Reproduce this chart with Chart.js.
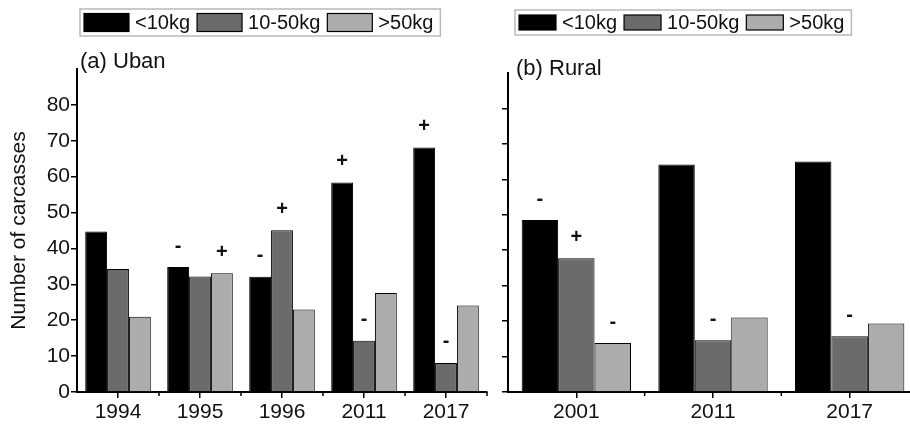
<!DOCTYPE html>
<html>
<head>
<meta charset="utf-8">
<script src="https://cdn.jsdelivr.net/npm/chart.js@4.4.1/dist/chart.umd.min.js"></script>
<style>
  html, body { margin:0; padding:0; width:910px; height:426px; overflow:hidden; background:#fff; }
  .panel { position:absolute; top:0; height:426px; }
  #wrapA { left:0; width:490px; }
  #wrapB { left:490px; width:430px; }
</style>
</head>
<body>
<div class="panel" id="wrapA"><canvas id="chartA"></canvas></div>
<div class="panel" id="wrapB"><canvas id="chartB"></canvas></div>
<script>
// ---------- DATA ----------
const seriesLabels = ['<10kg', '10-50kg', '>50kg'];

const urbanYears  = ['1994', '1995', '1996', '2011', '2017'];
const urbanSmall  = [44.7, 34.8, 32.1, 58.4, 68.1];
const urbanMedium = [34.3, 32.2, 45.1, 14.3, 8.1];
const urbanLarge  = [21.0, 33.1, 23.0, 27.6, 24.1];
const urbanSmallSig  = ['', '-', '-', '+', '+'];
const urbanMediumSig = ['', '', '+', '-', '-'];
const urbanLargeSig  = ['', '+', '', '', ''];

const ruralYears  = ['2001', '2011', '2017'];
const ruralSmall  = [48.5, 64.2, 65.0];
const ruralMedium = [37.7, 14.6, 15.7];
const ruralLarge  = [13.8, 21.0, 19.3];
const ruralSmallSig  = ['-', '', ''];
const ruralMediumSig = ['+', '-', '-'];
const ruralLargeSig  = ['-', '', ''];

const yMin = 0, yMax = 90, yStep = 10;
const yTitle = 'Number of carcasses';
const panelTitles = ['(a) Uban', '(b) Rural'];

// ---------- STYLE ----------
const FONT = "'Liberation Sans', Arial, Helvetica, sans-serif";
const TXT = '#111111';
const seriesColors = ['#000000', '#6b6b6b', '#acacac'];

function decorPlugin(cfg) {
  return {
    id: 'decor_' + cfg.name,
    afterDatasetsDraw(chart) {
      const ctx = chart.ctx;
      ctx.save();
      ctx.fillStyle = TXT;
      ctx.font = 'bold 20px ' + FONT;
      ctx.textAlign = 'center';
      ctx.textBaseline = 'middle';
      chart.data.datasets.forEach((ds, i) => {
        const meta = chart.getDatasetMeta(i);
        meta.data.forEach((el, j) => {
          const s = ds.sig[j];
          if (s) ctx.fillText(s, el.x, el.y - 21);
        });
      });
      ctx.restore();
    },
    afterDraw(chart) {
      const ctx = chart.ctx;
      const xs = chart.scales.x;
      ctx.save();
      // minor ticks between categories
      const n = chart.data.labels.length;
      const step = xs.getPixelForValue(1) - xs.getPixelForValue(0);
      ctx.strokeStyle = '#000';
      ctx.lineWidth = 1.5;
      for (let i = 1; i <= n; i++) {
        const px = xs.getPixelForValue(i) - step / 2;
        ctx.beginPath();
        ctx.moveTo(px, chart.chartArea.bottom);
        ctx.lineTo(px, chart.chartArea.bottom + 4);
        ctx.stroke();
      }
      // panel title
      ctx.fillStyle = TXT;
      ctx.font = '22px ' + FONT;
      ctx.textAlign = 'left';
      ctx.textBaseline = 'middle';
      ctx.fillText(cfg.title, cfg.titleX, cfg.titleY);
      // legend
      const L = cfg.legend;
      ctx.font = '20px ' + FONT;
      let x = L.x + L.pad;
      const items = chart.data.datasets.map(d => d);
      const parts = [];
      items.forEach((ds, i) => {
        const tw = ctx.measureText(ds.label).width;
        parts.push({ ds, sx: x, tx: x + L.sw + L.gt, tw });
        x += L.sw + L.gt + tw + (i < items.length - 1 ? L.gi : 0);
      });
      const boxW = x + L.rp - L.x;
      ctx.strokeStyle = '#b9b9b9';
      ctx.lineWidth = 1.5;
      ctx.strokeRect(L.x, L.y, boxW, L.h);
      parts.forEach(p => {
        const sy = L.y + (L.h - L.shh) / 2;
        ctx.fillStyle = p.ds.backgroundColor;
        ctx.fillRect(p.sx, sy, L.sw, L.shh);
        ctx.strokeStyle = '#000';
        ctx.lineWidth = 1.2;
        ctx.strokeRect(p.sx, sy, L.sw, L.shh);
        ctx.fillStyle = TXT;
        ctx.textAlign = 'left';
        ctx.textBaseline = 'middle';
        ctx.fillText(p.ds.label, p.tx, L.y + L.h / 2 + 1);
      });
      ctx.restore();
    }
  };
}

function makeChart(canvasId, labels, values, sigs, cfg) {
  const datasets = values.map((vals, i) => ({
    label: seriesLabels[i],
    data: vals,
    sig: sigs[i],
    backgroundColor: seriesColors[i],
    borderColor: '#000',
    borderWidth: 1,
    categoryPercentage: 0.8,
    barPercentage: 1.0
  }));
  return new Chart(document.getElementById(canvasId), {
    type: 'bar',
    data: { labels, datasets },
    plugins: [decorPlugin(cfg)],
    options: {
      responsive: true,
      maintainAspectRatio: false,
      animation: false,
      events: [],
      layout: { padding: { left: 0, right: cfg.padRight, top: cfg.padTop, bottom: 0 } },
      plugins: { legend: { display: false }, title: { display: false }, tooltip: { enabled: false } },
      scales: {
        x: {
          type: 'category',
          offset: true,
          grid: { offset: false, drawOnChartArea: false, drawTicks: true, tickLength: 6, color: '#000', lineWidth: 1.5 },
          border: { display: true, color: '#000', width: 2 },
          ticks: { color: TXT, font: { family: FONT, size: 21 }, padding: 2, maxRotation: 0, autoSkip: false },
          afterFit(s) { s.height = 34; }
        },
        y: {
          min: yMin, max: yMax,
          grid: { drawOnChartArea: false, drawTicks: true, tickLength: 6, color: '#000', lineWidth: 1.5 },
          border: { display: true, color: '#000', width: 2 },
          ticks: {
            stepSize: yStep,
            color: TXT,
            font: { family: FONT, size: 21 },
            padding: 1,
            callback: v => (v === yMax ? null : (cfg.showYLabels ? String(v) : ''))
          },
          title: {
            display: cfg.showYLabels,
            text: yTitle,
            color: TXT,
            font: { family: FONT, size: 21 },
            padding: { top: 7, bottom: 0 }
          },
          afterFit(s) { s.width = cfg.yWidth; }
        }
      }
    }
  });
}

makeChart('chartA', urbanYears,
  [urbanSmall, urbanMedium, urbanLarge],
  [urbanSmallSig, urbanMediumSig, urbanLargeSig],
  { name: 'a', padRight: 3, padTop: 69, yWidth: 77, showYLabels: true,
    title: panelTitles[0], titleX: 80, titleY: 62,
    legend: { x: 80, y: 9, h: 27, pad: 4, sw: 45, shh: 18, gt: 6, gi: 7, rp: 7 } });

makeChart('chartB', ruralYears,
  [ruralSmall, ruralMedium, ruralLarge],
  [ruralSmallSig, ruralMediumSig, ruralLargeSig],
  { name: 'b', padRight: 2, padTop: 73, yWidth: 18, showYLabels: false,
    title: panelTitles[1], titleX: 26, titleY: 69,
    legend: { x: 25, y: 10, h: 25, pad: 4, sw: 37, shh: 15, gt: 6, gi: 7, rp: 7 } });
</script>
</body>
</html>
